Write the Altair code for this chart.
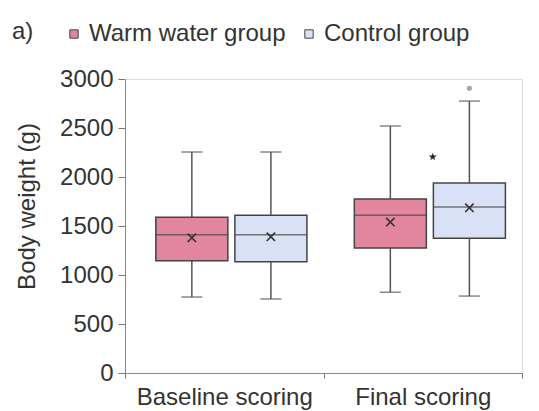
import altair as alt
import pandas as pd

categories = ["Baseline scoring", "Final scoring"]
groups = ["Warm water group", "Control group"]

box_category = ["Baseline scoring", "Baseline scoring", "Final scoring", "Final scoring"]
box_group = ["Warm water group", "Control group", "Warm water group", "Control group"]
whisker_low = [775, 755, 825, 785]
q1 = [1145, 1135, 1275, 1375]
median = [1410, 1410, 1610, 1695]
q3 = [1590, 1610, 1775, 1940]
whisker_high = [2255, 2255, 2520, 2775]
mean = [1380, 1390, 1540, 1685]

outlier_category = ["Final scoring"]
outlier_group = ["Control group"]
outlier_value = [2905]

star_category = ["Final scoring"]
star_value = [2205]

colors = ["#E2869F", "#D9E1F7"]

df = pd.DataFrame({
    "category": box_category, "group": box_group,
    "low": whisker_low, "q1": q1, "median": median, "q3": q3,
    "high": whisker_high, "mean": mean,
})
out_df = pd.DataFrame({"category": outlier_category, "group": outlier_group, "value": outlier_value})
star_df = pd.DataFrame({"category": star_category, "value": star_value})

FONT = "Liberation Sans"
TXT = "#333333"
FS = 24

xs = alt.Scale(domain=categories, paddingInner=0, paddingOuter=0)
xo = alt.Scale(domain=groups, paddingInner=0.089, paddingOuter=0.30, align=0.65)
ys = alt.Scale(domain=[0, 3000], nice=False)

x_enc = alt.X("category:N", scale=xs, sort=categories, axis=alt.Axis(
    title=None, labelAngle=0, tickBand="extent", tickSize=5, labelFontSize=FS,
    labelColor=TXT, labelPadding=7, domainColor="#888888", tickColor="#777777",
    labelFont=FONT))
xo_enc = alt.XOffset("group:N", scale=xo, sort=groups)
y_axis = alt.Axis(values=[0, 500, 1000, 1500, 2000, 2500, 3000], format="d", tickSize=7,
                  labelPadding=5, labelFontSize=FS, labelColor=TXT, grid=False,
                  domainColor="#888888", tickColor="#777777", title="Body weight (g)",
                  titleFontSize=FS, titleFontWeight="normal", titleColor=TXT,
                  titleFont=FONT, labelFont=FONT, titleX=-86, titleY=127)

base = alt.Chart(df)

whisk = base.mark_rule(color="#555555", strokeWidth=1.5).encode(
    x=x_enc, xOffset=xo_enc,
    y=alt.Y("low:Q", scale=ys, axis=y_axis), y2="high:Q")

caps_low = base.mark_tick(color="#555555", size=21, thickness=1.5).encode(
    x=x_enc, xOffset=xo_enc, y=alt.Y("low:Q", scale=ys))
caps_high = base.mark_tick(color="#555555", size=21, thickness=1.5).encode(
    x=x_enc, xOffset=xo_enc, y=alt.Y("high:Q", scale=ys))

boxes = base.mark_bar(stroke="#444444", strokeWidth=1.5).encode(
    x=x_enc, xOffset=xo_enc,
    y=alt.Y("q1:Q", scale=ys), y2="q3:Q",
    fill=alt.Fill("group:N", scale=alt.Scale(domain=groups, range=colors),
                  legend=alt.Legend(title=None, orient="none", direction="horizontal",
                                    legendX=-63, legendY=-57, symbolType="square",
                                    symbolSize=70, symbolStrokeColor="#444444",
                                    symbolStrokeWidth=1, labelFontSize=FS,
                                    labelColor=TXT, labelFont=FONT, labelOffset=3,
                                    labelLimit=400, columnPadding=11)))

med = base.mark_tick(color="#444444", size=72, thickness=1.5).encode(
    x=x_enc, xOffset=xo_enc, y=alt.Y("median:Q", scale=ys))

cross_path = "M-1,-1L1,1M-1,1L1,-1"
means = base.mark_point(shape=cross_path, size=70, filled=False, stroke="#333333",
                        strokeWidth=1.6, opacity=1).encode(
    x=x_enc, xOffset=xo_enc, y=alt.Y("mean:Q", scale=ys))

outl = alt.Chart(out_df).mark_point(shape="circle", size=28, filled=True,
                                    color="#AAAAAA", opacity=1).encode(
    x=alt.X("category:N", scale=xs, sort=categories),
    xOffset=alt.XOffset("group:N", scale=xo, sort=groups),
    y=alt.Y("value:Q", scale=ys))

star_path = ("M0,-1L0.2245,-0.309L0.951,-0.309L0.363,0.118L0.588,0.809L0,0.382"
             "L-0.588,0.809L-0.363,0.118L-0.951,-0.309L-0.2245,-0.309Z")
star = alt.Chart(star_df).mark_point(shape=star_path, size=70, filled=True,
                                     color="#222222", opacity=1, xOffset=10).encode(
    x=alt.X("category:N", scale=xs, sort=categories),
    y=alt.Y("value:Q", scale=ys))

chart = alt.layer(whisk, caps_low, caps_high, boxes, med, means, outl, star).properties(
    width=397, height=294,
    autosize=alt.AutoSizeParams(type="none"),
    padding={"left": 125, "top": 79, "right": 17, "bottom": 38},
    title=alt.TitleParams("a)", anchor="start", fontSize=FS, fontWeight="normal",
                          color=TXT, font=FONT, dx=-113, offset=0, dy=46,
                          baseline="bottom", frame="group"),
).configure_view(stroke=None).configure(font=FONT)

chart.save("out.html", embed_options={"renderer": "svg", "actions": False})
